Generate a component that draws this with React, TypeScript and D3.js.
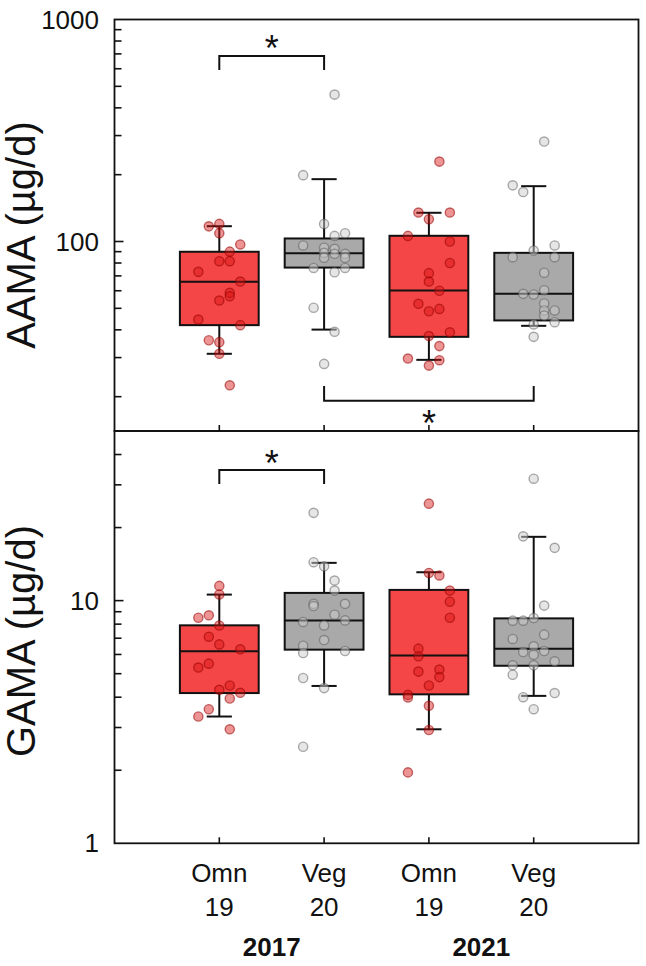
import React from 'react';
import * as d3 from 'd3';

// ---------- data ----------
const categories = ['Omn', 'Veg', 'Omn', 'Veg'];
const groupSizes = ['19', '20', '19', '20'];
const years = ['2017', '2021'];

// AAMA (µg/d) box statistics per group
const aamaLow = [31.2, 40.1, 29.3, 41.7];
const aamaQ1 = [42.0, 76.3, 37.2, 44.1];
const aamaMedian = [65.9, 88.6, 60.2, 58.1];
const aamaQ3 = [89.9, 103.2, 106.1, 88.9];
const aamaHigh = [117.2, 190.9, 134.7, 177.5];

// individual points: [jitter slot, value]
const aamaOmn2017 = [[-1, 117], [0, 120], [0, 109], [2, 97], [1, 90], [0, 81.5], [1, 81.5], [-2, 73], [2, 66], [1, 58.7], [1, 56.7], [0, 54.2], [-2, 44.5], [2, 42], [-1, 35.9], [0, 35.2], [0, 31.2], [1, 22.5]];
const aamaVeg2017 = [[1, 459], [-2, 199], [0, 120], [1, 106], [2, 109], [-2, 96], [0, 93.7], [1, 92.7], [0, 88.9], [1, 88], [2, 88], [0, 84.5], [2, 84.5], [-1, 76], [2, 76], [1, 72.7], [-1, 50.3], [1, 39.2], [0, 28.1]];
const aamaOmn2021 = [[1, 229], [-1, 135], [2, 135], [0, 126], [-2, 106], [2, 100], [2, 80], [0, 72], [0, 66], [1, 60], [-1, 52.4], [0, 48.5], [1, 49.7], [0, 37.5], [2, 39], [1, 33.8], [-2, 29.7], [1, 29.2], [0, 27.6]];
const aamaVeg2021 = [[1, 282], [-2, 179], [-1, 167], [0, 91], [2, 96], [-2, 85], [2, 85], [1, 72.3], [1, 60.3], [-1, 58.1], [0, 57.7], [1, 52.6], [1, 48.9], [2, 48.9], [1, 46.4], [2, 43.3], [0, 42.3], [0, 37.2]];

// GAMA (µg/d) box statistics per group
const gamaLow = [3.33, 4.45, 2.95, 4.05];
const gamaQ1 = [4.16, 6.28, 4.11, 5.39];
const gamaMedian = [6.18, 8.29, 5.94, 6.34];
const gamaQ3 = [7.91, 10.76, 11.07, 8.45];
const gamaHigh = [10.59, 14.31, 13.09, 18.32];

const gamaOmn2017 = [[0, 11.5], [0, 10.6], [-2, 8.5], [-1, 8.7], [0, 7.9], [-1, 7.1], [0, 6.6], [2, 6.3], [-1, 5.5], [-2, 5.3], [1, 4.47], [0, 4.29], [2, 4.17], [1, 3.95], [-1, 3.57], [-2, 3.33], [1, 2.95]];
const gamaVeg2017 = [[-1, 23], [-1, 14.4], [0, 13.85], [1, 12.1], [1, 11.0], [-1, 9.7], [-1, 9.5], [2, 9.7], [1, 8.75], [-2, 8.17], [2, 8.29], [0, 7.9], [0, 6.88], [-2, 6.52], [-2, 6.08], [2, 6.2], [-2, 4.8], [0, 4.36], [-2, 2.5]];
const gamaOmn2021 = [[0, 25.1], [0, 13.0], [1, 12.7], [2, 11.0], [2, 9.9], [2, 8.5], [-1, 6.34], [-1, 5.9], [-1, 5.1], [1, 5.2], [1, 4.84], [0, 4.47], [-2, 4.09], [-2, 3.99], [0, 3.69], [0, 2.93], [-2, 1.96]];
const gamaVeg2021 = [[0, 31.8], [-1, 18.4], [2, 16.5], [1, 9.54], [-2, 8.27], [-1, 8.27], [0, 8.48], [1, 7.24], [-2, 6.95], [0, 6.48], [-1, 6.14], [1, 6.2], [0, 5.99], [2, 5.62], [-2, 5.41], [0, 5.41], [-2, 4.95], [2, 4.16], [-1, 4.0], [0, 3.57]];

// significance comparisons: [group a, group b] (1-based positions)
const aamaSigTop = [[1, 2]];
const aamaSigBottom = [[2, 4]];
const gamaSigTop = [[1, 2]];

const aamaTickLabels = ['100', '1000'];
const gamaTickLabels = ['1', '10'];

// ---------- layout / style ----------
const W = 646, H = 966;
const LEFT = 114.5, RIGHT = 638.5, TOP = 19.5, MID = 431, BOTTOM = 843.3;
const FONT = '"Liberation Sans", Arial, Helvetica, sans-serif';
const STYLE: Record<string, { box: string; pFill: string; pStroke: string }> = {
  Omn: { box: '#f44646', pFill: 'rgba(215,20,20,0.45)', pStroke: 'rgba(150,0,0,0.55)' },
  Veg: { box: '#a9a9a9', pFill: 'rgba(205,205,205,0.5)', pStroke: 'rgba(90,90,90,0.5)' },
};

const x = d3.scaleLinear().domain([0, 5]).range([LEFT, RIGHT]);
const yA = d3.scaleLog().domain([Math.pow(10, 3 - (MID - TOP) / 222), 1000]).range([MID, TOP]);
const yG = d3.scaleLog().domain([1, 50]).range([BOTTOM, MID]);

type Panel = {
  y: d3.ScaleLogarithmic<number, number>;
  low: number[]; q1: number[]; med: number[]; q3: number[]; high: number[];
  points: number[][][];
  tickLabels: string[];
  title: string;
  titleY: number;
  y0: number; y1: number;
};

const panels: Panel[] = [
  { y: yA, low: aamaLow, q1: aamaQ1, med: aamaMedian, q3: aamaQ3, high: aamaHigh,
    points: [aamaOmn2017, aamaVeg2017, aamaOmn2021, aamaVeg2021], tickLabels: aamaTickLabels,
    title: 'AAMA (µg/d)', titleY: 235, y0: TOP, y1: MID },
  { y: yG, low: gamaLow, q1: gamaQ1, med: gamaMedian, q3: gamaQ3, high: gamaHigh,
    points: [gamaOmn2017, gamaVeg2017, gamaOmn2021, gamaVeg2021], tickLabels: gamaTickLabels,
    title: 'GAMA (µg/d)', titleY: 641, y0: MID, y1: BOTTOM },
];

const BOX_HALF = 0.376;
const CAP_HALF = 0.12;
const JIT = 0.1;
const LW = 2;

function PanelView({ p }: { p: Panel }) {
  const ticks = p.y.ticks().filter((t) => {
    const py = p.y(t);
    return py > p.y0 + 1 && py < p.y1 - 1;
  });
  const majors = p.y.ticks().filter((t) => Math.abs(Math.log10(t) - Math.round(Math.log10(t))) < 1e-9);
  return (
    <g>
      {categories.map((c, i) => {
        const cx = x(i + 1);
        const st = STYLE[c];
        return (
          <g key={'b' + i} stroke="#111" strokeWidth={LW} fill="none">
            <line x1={cx} x2={cx} y1={p.y(p.q3[i])} y2={p.y(p.high[i])} />
            <line x1={cx} x2={cx} y1={p.y(p.q1[i])} y2={p.y(p.low[i])} />
            <line x1={x(i + 1 - CAP_HALF)} x2={x(i + 1 + CAP_HALF)} y1={p.y(p.high[i])} y2={p.y(p.high[i])} />
            <line x1={x(i + 1 - CAP_HALF)} x2={x(i + 1 + CAP_HALF)} y1={p.y(p.low[i])} y2={p.y(p.low[i])} />
            <rect x={x(i + 1 - BOX_HALF)} width={x(i + 1 + BOX_HALF) - x(i + 1 - BOX_HALF)}
              y={p.y(p.q3[i])} height={p.y(p.q1[i]) - p.y(p.q3[i])} fill={st.box} />
            <line x1={x(i + 1 - BOX_HALF)} x2={x(i + 1 + BOX_HALF)} y1={p.y(p.med[i])} y2={p.y(p.med[i])} />
          </g>
        );
      })}
      {p.points.map((pts, i) => (
        <g key={'p' + i} fill={STYLE[categories[i]].pFill} stroke={STYLE[categories[i]].pStroke} strokeWidth={1.4}>
          {pts.map((d, j) => (
            <circle key={j} cx={x(i + 1 + d[0] * JIT)} cy={p.y(d[1])} r={4.6} />
          ))}
        </g>
      ))}
      <rect x={LEFT} y={p.y0} width={RIGHT - LEFT} height={p.y1 - p.y0} fill="none" stroke="#111" strokeWidth={1.8} />
      {ticks.map((t, k) => {
        const major = majors.includes(t);
        return <line key={'t' + k} x1={LEFT} x2={LEFT + (major ? 9 : 7)} y1={p.y(t)} y2={p.y(t)} stroke="#111" strokeWidth={1.6} />;
      })}
      {categories.map((c, i) => (
        <line key={'xt' + i} x1={x(i + 1)} x2={x(i + 1)} y1={p.y1} y2={p.y1 - 6} stroke="#111" strokeWidth={1.6} />
      ))}
      {p.tickLabels.map((l) => (
        <text key={l} x={99} y={p.y(+l)} dy="0.35em" textAnchor="end" fontSize={26} fontFamily={FONT} fill="#111">{l}</text>
      ))}
      <text transform={`translate(35,${p.titleY}) rotate(-90)`} textAnchor="middle" fontSize={40} fontFamily={FONT} fill="#111">{p.title}</text>
    </g>
  );
}

function Bracket({ a, b, yLine, yLeg, starY }: { a: number; b: number; yLine: number; yLeg: number; starY: number }) {
  const x1 = x(a), x2 = x(b);
  return (
    <g>
      <path d={`M${x1},${yLeg}V${yLine}H${x2}V${yLeg}`} fill="none" stroke="#111" strokeWidth={LW} />
      <text x={(x1 + x2) / 2} y={starY} textAnchor="middle" fontSize={36} fontFamily={FONT} fill="#111">*</text>
    </g>
  );
}

export default function App() {
  return (
    <svg width={W} height={H} style={{ position: 'absolute', left: 0, top: 0, background: '#fff' }}>
      <rect width={W} height={H} fill="#fff" />
      {panels.map((p, i) => <PanelView key={i} p={p} />)}
      {aamaSigTop.map(([a, b], i) => (
        <Bracket key={'at' + i} a={a} b={b} yLine={56} yLeg={70} starY={61} />
      ))}
      {aamaSigBottom.map(([a, b], i) => (
        <Bracket key={'ab' + i} a={a} b={b} yLine={400.7} yLeg={386} starY={436} />
      ))}
      {gamaSigTop.map(([a, b], i) => (
        <Bracket key={'gt' + i} a={a} b={b} yLine={470} yLeg={484} starY={476} />
      ))}
      {categories.map((c, i) => (
        <g key={'xl' + i} fontFamily={FONT} fontSize={26} fill="#111" textAnchor="middle">
          <text x={x(i + 1)} y={882}>{c}</text>
          <text x={x(i + 1)} y={916}>{groupSizes[i]}</text>
        </g>
      ))}
      {years.map((yr, k) => (
        <text key={yr} x={x(k * 2 + 1.5)} y={956} textAnchor="middle" fontFamily={FONT} fontSize={26} fontWeight="bold" fill="#111">{yr}</text>
      ))}
    </svg>
  );
}
